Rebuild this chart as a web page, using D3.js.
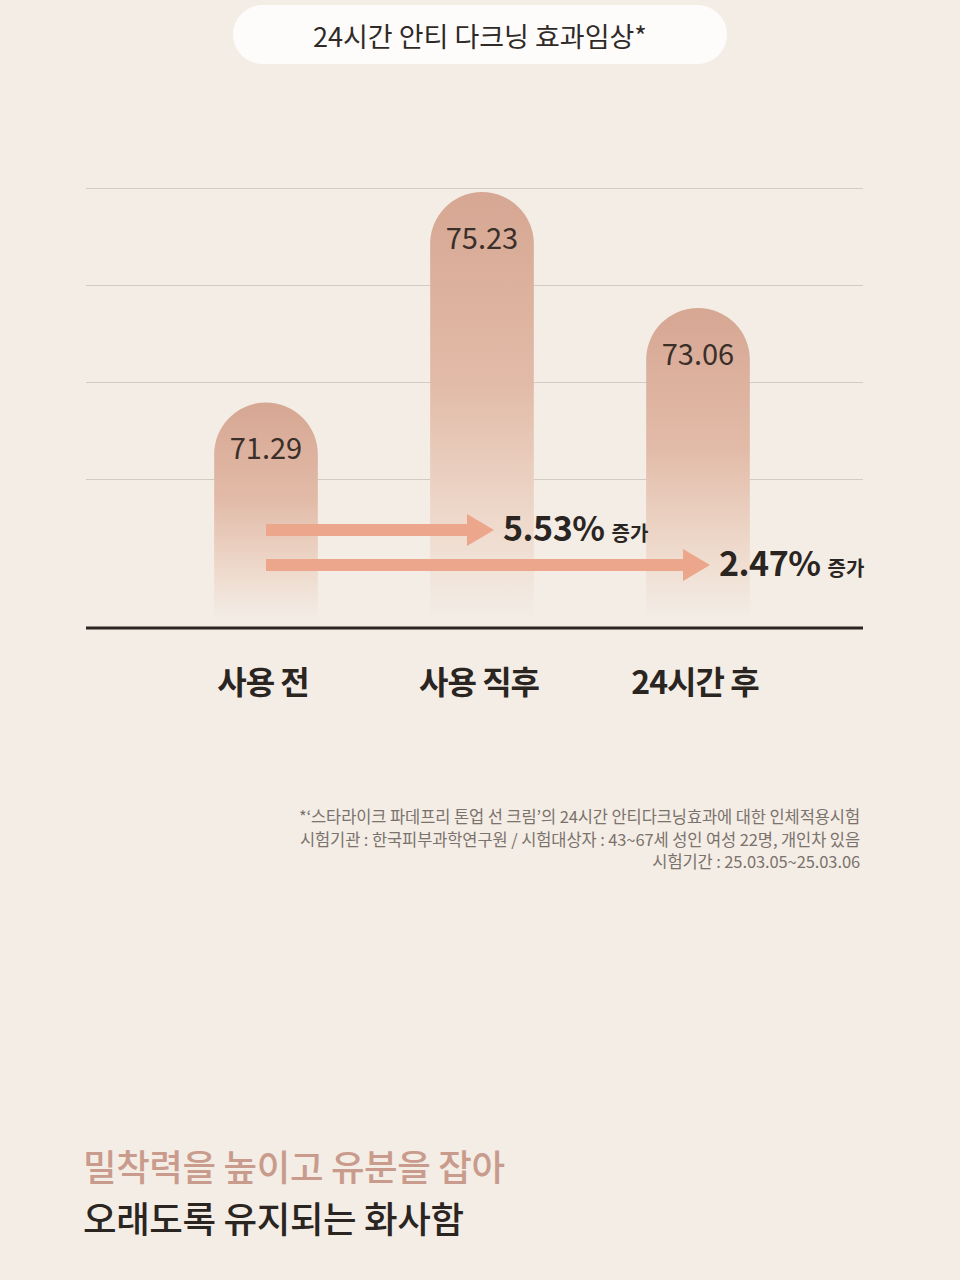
<!DOCTYPE html>
<html>
<head>
<meta charset="utf-8">
<script src="https://cdn.jsdelivr.net/npm/d3@7"></script>
<style>
  body { margin: 0; background: #f3ede6; }
  svg { display: block; font-family: "Noto Sans CJK KR", "Noto Sans", sans-serif; }
</style>
</head>
<body>
<svg id="chart" width="960" height="1280"></svg>
<script>
// chart data
var categories = ['사용 전', '사용 직후', '24시간 후'];
var values = [71.29, 75.23, 73.06];
var increases = [
    {from: '사용 전', to: '사용 직후', pct: '5.53%'},
    {from: '사용 전', to: '24시간 후', pct: '2.47%'}
];
var title = '24시간 안티 다크닝 효과임상*';
var notes = [
    '*\u2018스타라이크 파데프리 톤업 선 크림\u2019의 24시간 안티다크닝효과에 대한 인체적용시험',
    '시험기관 : 한국피부과학연구원 / 시험대상자 : 43~67세 성인 여성 22명, 개인차 있음',
    '시험기간 : 25.03.05~25.03.06'
];
var headline = ['밀착력을 높이고 유분을 잡아', '오래도록 유지되는 화사함'];

var svg = d3.select('#chart');
var left = 86, right = 863, baseY = 628;

var x = d3.scaleBand().domain(categories).range([158, 806]).paddingInner(0.52).paddingOuter(0.26);
var y = d3.scaleLinear().domain([69.8, 75.25]).range([482, 191]);
var cx = function(c) { return x(c) + x.bandwidth() / 2; };

// title pill
svg.append('rect')
    .attr('x', 233).attr('y', 5).attr('width', 494).attr('height', 59)
    .attr('rx', 29.5).attr('fill', '#fefcfa');
svg.append('text')
    .attr('x', 480).attr('y', 35)
    .attr('text-anchor', 'middle').attr('dominant-baseline', 'central')
    .attr('font-size', 27).attr('fill', '#2f2a27')
    .text(title);

// grid lines
var grid = d3.range(4).map(function(i) {
    var d = y.domain();
    return d[0] + i * (d[1] - d[0]) / 3;
});
svg.append('g').selectAll('line').data(grid).enter().append('line')
    .attr('x1', left).attr('x2', right)
    .attr('y1', function(d) { return Math.round(y(d) - 3) + 0.5; })
    .attr('y2', function(d) { return Math.round(y(d) - 3) + 0.5; })
    .attr('stroke', '#d3ccc4').attr('stroke-width', 1);

// bar gradient
var grad = svg.append('defs').append('linearGradient')
    .attr('id', 'barGrad').attr('x1', 0).attr('y1', 0).attr('x2', 0).attr('y2', 1);
grad.append('stop').attr('offset', '0%').attr('stop-color', '#d6a793');
grad.append('stop').attr('offset', '45%').attr('stop-color', '#e2bba8');
grad.append('stop').attr('offset', '80%').attr('stop-color', '#efdccf');
grad.append('stop').attr('offset', '100%').attr('stop-color', '#f3ede6');

var w = x.bandwidth(), r = w / 2;
svg.append('g').selectAll('path').data(values).enter().append('path')
    .attr('d', function(d, i) {
        var x0 = x(categories[i]), top = y(d), bottom = baseY - 8;
        return 'M' + x0 + ',' + bottom +
            'V' + (top + r) +
            'A' + r + ',' + r + ' 0 0 1 ' + (x0 + w) + ',' + (top + r) +
            'V' + bottom + 'Z';
    })
    .attr('fill', 'url(#barGrad)');

svg.append('g').selectAll('text').data(values).enter().append('text')
    .attr('x', function(d, i) { return cx(categories[i]); })
    .attr('y', function(d) { return y(d) + 44; })
    .attr('text-anchor', 'middle').attr('dominant-baseline', 'central')
    .attr('font-size', 29).attr('fill', '#3b2f2a')
    .text(function(d) { return d.toFixed(2); });

// arrows
var arrowY = [530, 565];
var arrows = svg.append('g').selectAll('g').data(increases).enter().append('g');
arrows.append('path')
    .attr('d', function(d, i) {
        var x0 = cx(d.from), tip = cx(d.to) + 12, hy = arrowY[i];
        var hx = tip - 27;
        return 'M' + x0 + ',' + (hy - 6) + 'H' + hx + 'V' + (hy - 16) +
            'L' + tip + ',' + hy + 'L' + hx + ',' + (hy + 16) + 'V' + (hy + 6) +
            'H' + x0 + 'Z';
    })
    .attr('fill', '#eca68c');
var lab = arrows.append('text')
    .attr('x', function(d) { return cx(d.to) + 21; })
    .attr('y', function(d, i) { return arrowY[i] + 11; })
    .attr('fill', '#2b2522').attr('font-weight', 700);
lab.append('tspan').attr('font-size', 34).attr('letter-spacing', -0.5).text(function(d) { return d.pct; });
lab.append('tspan').attr('font-size', 20).attr('dx', 7).text('증가');

// axis baseline
svg.append('line')
    .attr('x1', left).attr('x2', right)
    .attr('y1', baseY).attr('y2', baseY)
    .attr('stroke', '#2b2522').attr('stroke-width', 3);

// category labels
svg.append('g').selectAll('text').data(categories).enter().append('text')
    .attr('x', function(d) { return cx(d) - 3; })
    .attr('y', 680)
    .attr('text-anchor', 'middle').attr('dominant-baseline', 'central')
    .attr('font-size', 32).attr('font-weight', 700).attr('fill', '#2b2522')
    .attr('letter-spacing', -1)
    .text(function(d) { return d; });

// footnote
svg.append('g').selectAll('text').data(notes).enter().append('text')
    .attr('x', 860)
    .attr('y', function(d, i) { return 816 + i * 22.5; })
    .attr('text-anchor', 'end').attr('dominant-baseline', 'central')
    .attr('font-size', 16.5).attr('fill', '#7b726c').attr('letter-spacing', -0.1)
    .text(function(d) { return d; });

// headline
svg.append('g').selectAll('text').data(headline).enter().append('text')
    .attr('x', 83)
    .attr('y', function(d, i) { return 1165 + i * 52; })
    .attr('dominant-baseline', 'central')
    .attr('font-size', 36.5).attr('font-weight', 500).attr('letter-spacing', -0.4)
    .attr('fill', function(d, i) { return i === 0 ? '#c99b8c' : '#2b2522'; })
    .text(function(d) { return d; });
</script>
</body>
</html>
